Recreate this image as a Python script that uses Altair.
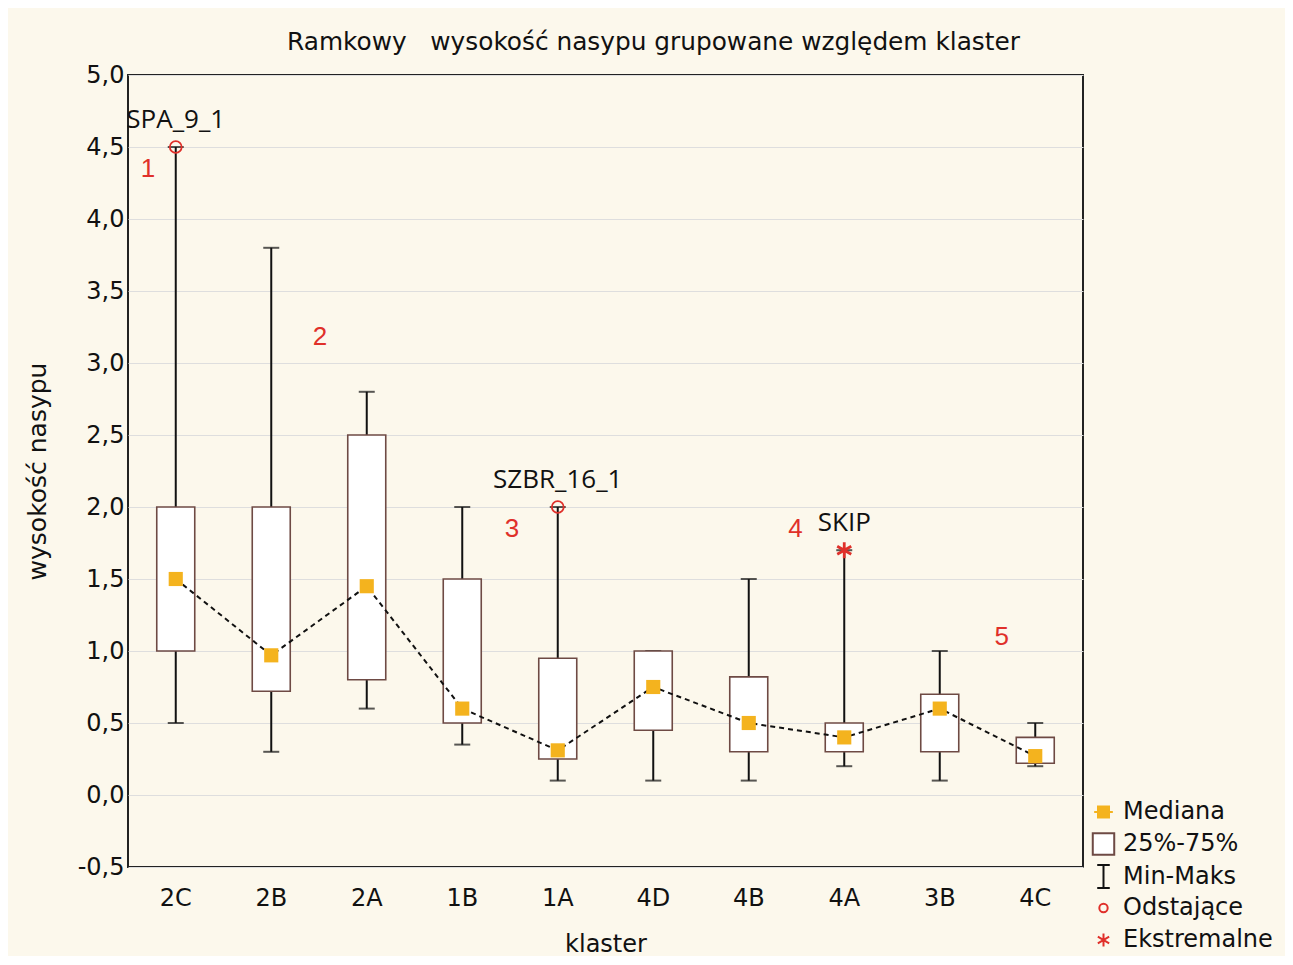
import altair as alt
import pandas as pd

# ---- data ----
klaster = ["2C", "2B", "2A", "1B", "1A", "4D", "4B", "4A", "3B", "4C"]
minimum = [0.5, 0.3, 0.6, 0.35, 0.1, 0.1, 0.1, 0.2, 0.1, 0.2]
q1 = [1.0, 0.72, 0.8, 0.5, 0.25, 0.45, 0.3, 0.3, 0.3, 0.22]
mediana = [1.5, 0.97, 1.45, 0.6, 0.31, 0.75, 0.5, 0.4, 0.6, 0.27]
q3 = [2.0, 2.0, 2.5, 1.5, 0.95, 1.0, 0.82, 0.5, 0.7, 0.4]
maksimum = [4.5, 3.8, 2.8, 2.0, 2.0, 1.0, 1.5, 1.7, 1.0, 0.5]

out_klaster = ["2C", "1A", "4A"]
out_value = [4.5, 2.0, 1.7]
out_type = ["Odstające", "Odstające", "Ekstremalne"]
out_label = ["SPA_9_1", "SZBR_16_1", "SKIP"]

# red group numbers: category, value, horizontal shift as a fraction of a band
note_text = ["1", "2", "3", "4", "5"]
note_klaster = ["2C", "2B", "1A", "4A", "4C"]
note_value = [4.35, 3.18, 1.85, 1.85, 1.10]
note_shift = [-0.29, 0.51, -0.48, -0.51, -0.35]

legend_items = ["Mediana", "25%-75%", "Min-Maks", "Odstające", "Ekstremalne"]

y_ticks = [-0.5, 0.0, 0.5, 1.0, 1.5, 2.0, 2.5, 3.0, 3.5, 4.0, 4.5, 5.0]

df = pd.DataFrame({"klaster": klaster, "min": minimum, "q1": q1, "med": mediana,
                   "q3": q3, "max": maksimum})
df_out = pd.DataFrame({"klaster": out_klaster, "value": out_value,
                       "typ": out_type, "label": out_label})
df_note = pd.DataFrame({"klaster": note_klaster, "value": note_value,
                        "text": note_text, "shift": note_shift})
df_leg = pd.DataFrame({"item": legend_items})

FONT = "DejaVu Sans"
RED = "#e0302a"
BOX = "#6e4a44"
MED = "#f4b31e"

xenc = alt.X("klaster:N", sort=klaster,
             scale=alt.Scale(domain=klaster, paddingInner=0, paddingOuter=0),
             axis=alt.Axis(title="klaster", labelAngle=0, ticks=False, tickSize=0,
                           labelFontSize=24, labelPadding=19, labelColor="#111",
                           titleFontSize=24, titleFontWeight="normal", titleColor="#111",
                           titlePadding=22, labelFont=FONT, titleFont=FONT,
                           domain=False, grid=False))
yscale = alt.Scale(domain=[-0.5, 5.0], nice=False, zero=False)
yaxis = alt.Axis(title="wysokość nasypu", values=y_ticks,
                 labelExpr="replace(replace(format(datum.value, '.1f'), '.', ','), '\u2212', '-')",
                 labelFontSize=24, labelPadding=4, labelColor="#111", labelFont=FONT,
                 titleFont=FONT, titleFontSize=25, titleFontWeight="normal",
                 titleColor="#111", titlePadding=27, ticks=False, domain=False,
                 grid=True, gridColor="#dedede", gridWidth=1)

base = alt.Chart(df).encode(x=xenc)

whisk_low = base.mark_rule(color="#111", strokeWidth=2).encode(
    y=alt.Y("min:Q", scale=yscale, axis=yaxis), y2="q1:Q")
whisk_high = base.mark_rule(color="#111", strokeWidth=2).encode(
    y=alt.Y("q3:Q"), y2="max:Q")
cap_low = base.mark_tick(color="#111", size=16, thickness=2).encode(y="min:Q")
cap_high = base.mark_tick(color="#111", size=16, thickness=2).encode(y="max:Q")
boxes = base.mark_bar(size=38, fill="white", stroke=BOX, strokeWidth=1.6).encode(
    y="q1:Q", y2="q3:Q")
line = base.mark_line(color="#111", strokeDash=[5, 4], strokeWidth=2).encode(y="med:Q")
meds = base.mark_square(size=200, color=MED, opacity=1).encode(y="med:Q")

outb = alt.Chart(df_out).encode(x=alt.X("klaster:N", sort=klaster), y="value:Q")
circles = outb.transform_filter(alt.datum.typ == "Odstające").mark_point(
    shape="circle", size=140, stroke=RED, strokeWidth=1.8, filled=False, opacity=1)
stars = outb.transform_filter(alt.datum.typ == "Ekstremalne").mark_point(
    shape="M0,-1L0,1M-0.87,-0.5L0.87,0.5M-0.87,0.5L0.87,-0.5", size=260,
    stroke=RED, strokeWidth=2.8, filled=False, opacity=1)
out_text = outb.mark_text(font="Open Sans", fontSize=26, color="#111", dy=-27,
                          align="center", baseline="middle").encode(text="label:N")

notes = alt.Chart(df_note).mark_text(font="Liberation Sans", fontSize=26, color=RED,
                                     align="center", baseline="middle").encode(
    x=alt.X("klaster:N", sort=klaster), y="value:Q", text="text:N",
    xOffset=alt.XOffset("shift:Q", scale=alt.Scale(domain=[-0.5, 0.5])))

leg = alt.Legend(title=None, orient="none", legendX=963, legendY=725,
                 labelFontSize=24, labelFont=FONT, labelColor="#111",
                 symbolOpacity=1, symbolStrokeWidth=2, rowPadding=1,
                 labelOffset=7, gridAlign="all")
shapes = ["M-1.7,0L-1.1,0M1.1,0L1.7,0M-1,-1L1,-1L1,1L-1,1Z",
          "square",
          "M-0.55,-1L0.55,-1M0,-1L0,1M-0.55,1L0.55,1",
          "circle",
          "M0,-1L0,1M-0.87,-0.5L0.87,0.5M-0.87,0.5L0.87,-0.5"]
legend_layer = alt.Chart(df_leg).mark_point(opacity=0, filled=True).encode(
    shape=alt.Shape("item:N", sort=legend_items,
                    scale=alt.Scale(domain=legend_items, range=shapes), legend=leg),
    fill=alt.Fill("item:N", sort=legend_items,
                  scale=alt.Scale(domain=legend_items,
                                  range=[MED, "white", "transparent", "transparent", "transparent"]),
                  legend=leg),
    stroke=alt.Stroke("item:N", sort=legend_items,
                      scale=alt.Scale(domain=legend_items,
                                      range=[MED, BOX, "#111", RED, RED]),
                      legend=leg),
    size=alt.Size("item:N", sort=legend_items,
                  scale=alt.Scale(type="ordinal", domain=legend_items,
                                  range=[121, 460, 520, 70, 170]),
                  legend=leg),
)

chart = alt.layer(
    whisk_low, whisk_high, cap_low, cap_high, boxes, line, meds,
    circles, stars, out_text, notes, legend_layer
).properties(
    width=955, height=792,
    title=alt.TitleParams("Ramkowy\u00a0\u00a0\u00a0wysokość nasypu grupowane względem klaster",
                          fontSize=24.8, font=FONT, fontWeight="normal", color="#111",
                          dx=48, offset=8, anchor="middle"),
    autosize=alt.AutoSizeParams(type="none"),
    padding={"left": 120, "top": 67, "right": 202, "bottom": 89},
    background="#fcf8ec",
).configure_view(
    fill="white", stroke="#222", strokeWidth=2
)

chart.save("out.html", embed_options={"renderer": "svg", "actions": False})
